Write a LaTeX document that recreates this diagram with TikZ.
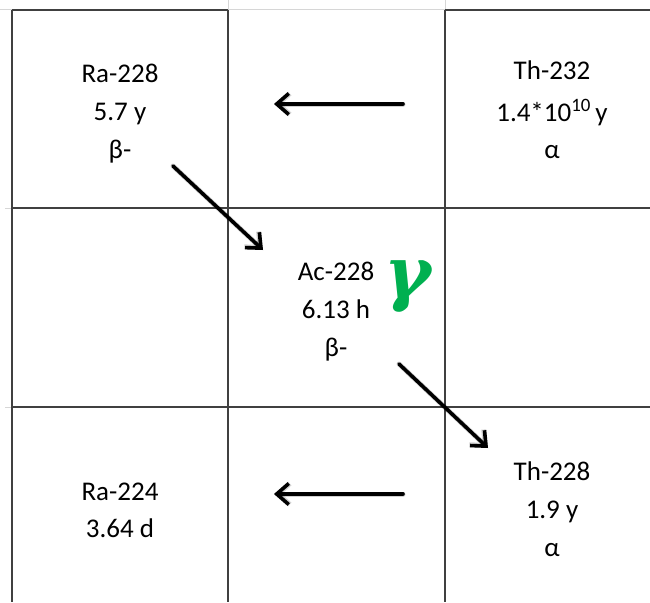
\documentclass[tikz,border=0pt]{standalone}
\usepackage{fontspec}
\setmainfont{Carlito}
\newfontfamily\gammafont{DejaVu Serif}
\usetikzlibrary{arrows.meta}
\definecolor{gridgray}{HTML}{404040}
\definecolor{faintgray}{HTML}{D6D6D6}
\definecolor{gammagreen}{HTML}{00B050}
\begin{document}
\begin{tikzpicture}[x=1pt,y=-1pt,
  cellline/.style={draw=gridgray,line width=1.4pt},
  faintline/.style={draw=faintgray,line width=1pt},
  lbl/.style={anchor=base,inner sep=0pt,font={\fontsize{27}{32}\selectfont}},
  gammalbl/.style={anchor=base,inner sep=0pt,text=gammagreen,font={\gammafont\bfseries\itshape\fontsize{71}{71}\selectfont}},
  decay/.style={draw=black,line width=3.6pt,line cap=round,
    -{Straight Barb[length=12pt,width=21pt]}},
  decayshadow/.style={draw=black,opacity=0.18,line width=5pt,line cap=round,
    -{Straight Barb[length=12pt,width=21pt]}}]
\useasboundingbox (0,0) rectangle (650,602);
% faint spreadsheet gridlines
\draw[faintline] (0,10) -- (12,10) (228,10) -- (445,10);
\draw[faintline] (228,0) -- (228,10) (445,0) -- (445,10);
\draw[faintline] (5,208) -- (12,208) (5,407) -- (12,407);
% cell borders
\draw[cellline] (12,10) -- (228,10) (445,10) -- (650,10);
\draw[cellline] (12,208) -- (650,208);
\draw[cellline] (12,407) -- (650,407);
\draw[cellline] (12,10) -- (12,602);
\draw[cellline] (228,10) -- (228,602);
\draw[cellline] (445,10) -- (445,602);
% labels
\node[lbl] (ra228a) at (120,82) {Ra-228};
\node[lbl] (ra228b) at (120,120) {5.7 y};
\node[lbl] (ra228c) at (120,158) {β-};
\node[lbl] (th232a) at (552,79) {Th-232};
\node[lbl] (th232b) at (552,121) {1.4*10\textsuperscript{10}\,y};
\node[lbl] (th232c) at (552,158) {α};
\node[lbl] (ac228a) at (336,280) {Ac-228};
\node[lbl] (ac228b) at (336,318) {6.13 h};
\node[lbl] (ac228c) at (336,356) {β-};
\node[gammalbl] (gammasym) at (408,297) {γ};
\node[lbl] (ra224a) at (120,500) {Ra-224};
\node[lbl] (ra224b) at (120,537) {3.64 d};
\node[lbl] (th228a) at (552,480) {Th-228};
\node[lbl] (th228b) at (552,518) {1.9 y};
\node[lbl] (th228c) at (552,556) {α};
% arrow end points
\coordinate (a1s) at (403,104); \coordinate (a1e) at (274,104);
\coordinate (a2s) at (173,166); \coordinate (a2e) at (263,250);
\coordinate (a3s) at (399,364); \coordinate (a3e) at (488,448);
\coordinate (a4s) at (403,494); \coordinate (a4e) at (274,494);
% shadows
\begin{scope}[shift={(1.5,2)}]
\draw[decayshadow] (a1s) -- (a1e);
\draw[decayshadow] (a2s) -- (a2e);
\draw[decayshadow] (a3s) -- (a3e);
\draw[decayshadow] (a4s) -- (a4e);
\end{scope}
% arrows
\draw[decay] (a1s) -- (a1e);
\draw[decay] (a2s) -- (a2e);
\draw[decay] (a3s) -- (a3e);
\draw[decay] (a4s) -- (a4e);
\end{tikzpicture}
\end{document}
